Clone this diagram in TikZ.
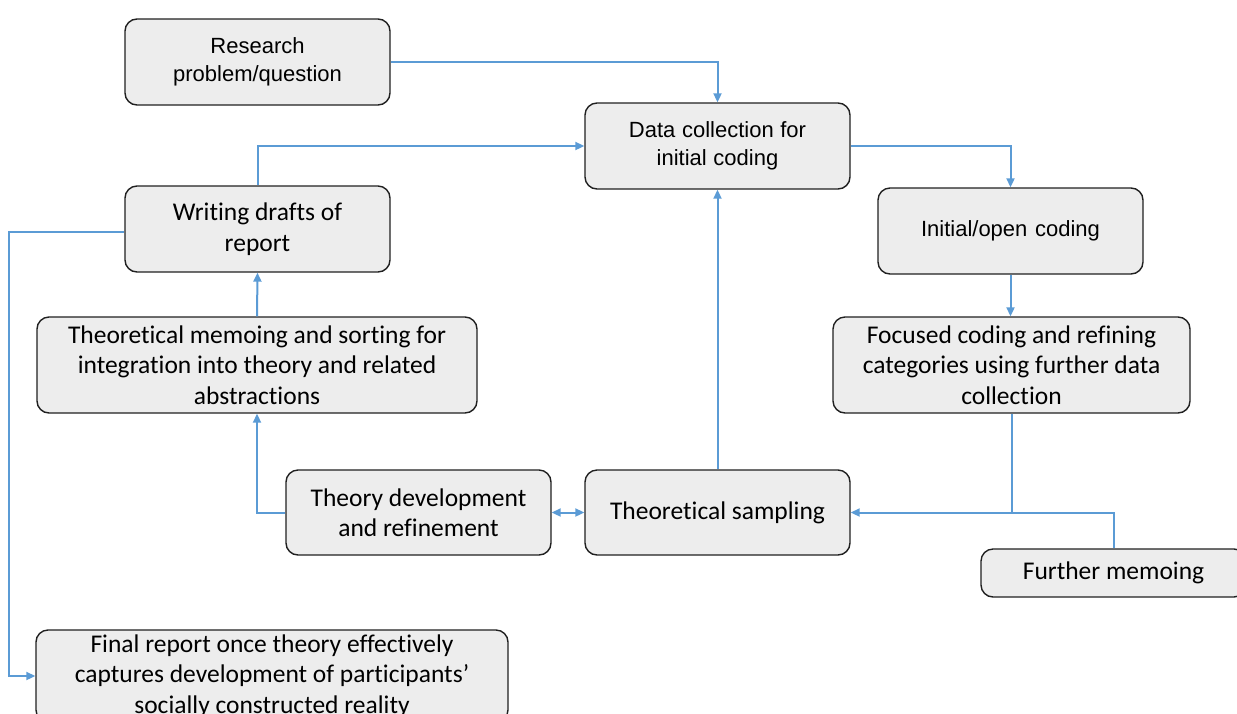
\documentclass[tikz,border=0pt]{standalone}
\usepackage{fontspec}
\setmainfont{Carlito}[Ligatures={NoCommon}]
\newfontfamily\arialfont{Liberation Sans}
\usetikzlibrary{arrows.meta,calc}
\definecolor{linkblue}{HTML}{5B9BD5}
\definecolor{boxfill}{HTML}{EDEDED}
\definecolor{boxline}{HTML}{202020}
\begin{document}
\begin{tikzpicture}[x=1pt,y=-1pt,
  box/.style={draw=boxline,fill=boxfill,line width=1.4pt,rounded corners=12pt,
    inner sep=0pt,align=center,text=black},
  cbox/.style={box,font=\fontsize{25.5}{30.5}\selectfont},
  abox/.style={box,font=\arialfont\fontsize{22}{28}\selectfont},
  link/.style={draw=linkblue,line width=2pt},
  arr/.style={link,-{Triangle[length=9pt,width=8pt]}},
  darr/.style={link,{Triangle[length=9pt,width=8pt]}-{Triangle[length=9pt,width=8pt]}}]
\useasboundingbox (0,0) rectangle (1237,713);
\clip (0,0) rectangle (1237,713);

% boxes
\node[abox,minimum width=265pt,minimum height=86pt] (res) at (257.5,62) {Research\\problem/question};
\node[abox,minimum width=265pt,minimum height=86pt] (dc) at (717.5,146) {Data\hspace{0.3em}collection\hspace{0.3em}for\\initial\hspace{0.3em}coding};
\node[abox,minimum width=265pt,minimum height=86pt] (ioc) at (1010.5,231) {Initial/open\hspace{0.35em}coding};
\node[cbox,minimum width=357pt,minimum height=96pt] (foc) at (1011.5,365) {Focused coding and refining\\categories using further data\\collection};
\node[cbox,minimum width=265pt,minimum height=85pt] (ts) at (717.5,512.5) {Theoretical sampling};
\node[cbox,minimum width=265pt,minimum height=85pt] (tdr) at (418.5,512.5) {Theory development\\and refinement};
\node[cbox,minimum width=265pt,minimum height=48pt] (fm) at (1113.5,573) {Further memoing};
\node[cbox,minimum width=440pt,minimum height=96pt] (tm) at (257,365) {Theoretical memoing and sorting for\\integration into theory and related\\abstractions};
\node[cbox,minimum width=265pt,minimum height=86pt] (wd) at (257.5,229) {Writing drafts of\\report};
\node[cbox,minimum width=472pt,minimum height=92pt] (fr) at (272,676) {Final report once theory effectively\\captures development of participants’\\socially constructed reality};

% connectors
\coordinate (join) at (foc.south |- ts.east);
\draw[arr] (res.east) -| (dc.north);
\draw[arr] (wd.north) |- (dc.west);
\draw[arr] (dc.east) -| (ioc.north);
\draw[arr] (ioc.south) -- (ioc.south |- foc.north);
\draw[arr] (foc.south) -- (join) -- (ts.east);
\draw[link] (fm.north) |- (join);
\draw[arr] (ts.north) -- (dc.south);
\draw[darr] (tdr.east) -- (ts.west);
\draw[arr] (tdr.west) -| (tm.south);
\draw[arr] (tm.north) -- (wd.south);
\draw[arr] ([yshift=-3pt]wd.west) -| ([xshift=-26pt]fr.west) -- (fr.west);
\end{tikzpicture}
\end{document}
